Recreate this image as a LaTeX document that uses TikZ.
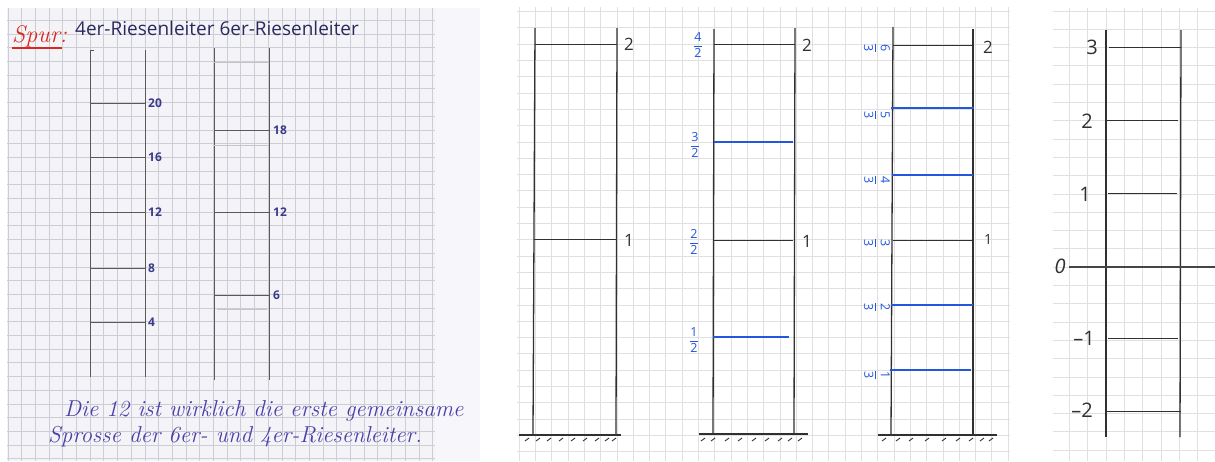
\documentclass[tikz,border=0pt]{standalone}
\usepackage{amsmath}
\usepackage{fontspec}
\newfontfamily\numf{Open Sans}
\definecolor{paperA}{HTML}{F4F4F8}
\definecolor{paperB}{HTML}{F7F6FB}
\definecolor{gridA}{HTML}{CDCDD6}
\definecolor{gridB}{HTML}{E0E0E0}
\definecolor{redink}{HTML}{D9281E}
\definecolor{navyink}{HTML}{2B2A5E}
\definecolor{violetink}{HTML}{4B3FA8}
\definecolor{labink}{HTML}{3B3A8A}
\definecolor{pencil}{HTML}{5A5A5A}
\definecolor{ink}{HTML}{303030}
\definecolor{blueink}{HTML}{2457E0}
\newcommand\hfr[2]{$\genfrac{}{}{0.7pt}{0}{\text{#1}}{\text{#2}}$}
\tikzset{
  gridlineA/.style={draw=gridA, line width=0.6},
  gridlineB/.style={draw=gridB, line width=0.6},
  oldrail/.style={draw=pencil, line width=0.9},
  oldrung/.style={draw=pencil, line width=0.9},
  erased/.style={draw=pencil!35, line width=0.8},
  oldlab/.style={text=labink, font=\numf\bfseries\fontsize{12}{12}\selectfont, anchor=west, inner sep=1pt},
  rail/.style={draw=ink, line width=1.3},
  rung/.style={draw=ink, line width=1.0},
  bluerung/.style={draw=blueink, line width=1.1},
  ground/.style={draw=ink, line width=1.5},
  hatch/.style={draw=ink, line width=0.9},
  biglab/.style={text=ink, font=\numf\fontsize{17}{17}\selectfont, inner sep=1pt},
  numlab/.style={text=ink, font=\numf\fontsize{20}{20}\selectfont, inner sep=1pt},
  fraclab/.style={text=blueink, font=\numf\fontsize{12.5}{12.5}\selectfont, inner sep=0pt},
  cursive/.style={text=violetink, font=\itshape\fontsize{23}{23}\selectfont, anchor=base west, inner sep=0pt},
}
\begin{document}
\begin{tikzpicture}[x=1pt,y=-1pt]
\useasboundingbox (0,0) rectangle (1215,461);
\fill[white] (0,0) rectangle (1215,461);
% ---------------- panel 1 ----------------
\fill[paperA] (7,8) rectangle (435,461);
\fill[paperB] (435,8) rectangle (480,461);
\begin{scope}
\clip (7,8) rectangle (435,461);
\foreach \i in {0,...,31} \draw[gridlineA] ({7.8+13.7*\i},8) -- ++(0,453);
\foreach \j in {0,...,33} \draw[gridlineA] (7,{6.5+13.7*\j}) -- ++(428,0);
\end{scope}
\node[text=redink, font=\itshape\fontsize{24}{24}\selectfont, anchor=base west, inner sep=0pt] (spur) at (12,42) {Spur:};
\draw[redink, line width=1.3] (12,48) -- (62,48);
\node[text=navyink, font=\numf\fontsize{19}{19}\selectfont, anchor=base west, inner sep=0pt] (title) at (75,35) {4er-Riesenleiter 6er-Riesenleiter};
% 4er ladder
\draw[oldrail] (90,50) -- (90,377);
\draw[oldrail] (145,50) -- (145,377);
\draw[oldrail] (90,50) -- (94,50);
\foreach \y/\t in {103/20,157/16,212/12,268/8,322/4}{
  \draw[oldrung] (90,\y) -- (145,\y);
  \node[oldlab] (f\t) at (147,\y) {\t};
}
% 6er ladder
\draw[oldrail] (214,48) -- (214,380);
\draw[oldrail] (269,48) -- (269,380);
\draw[erased] (214,62) -- (269,62);
\draw[erased] (214,145) -- (269,145);
\draw[erased] (217,309) -- (267,309);
\foreach \y/\t in {130/18,212/12,295/6}{
  \draw[oldrung] (214,\y) -- (269,\y);
  \node[oldlab] (s\t) at (272,\y) {\t};
}
\node[cursive] (line1) at (64,416) {Die 12 ist wirklich die erste gemeinsame};
\node[cursive] (line2) at (48,442) {Sprosse der 6er- und 4er-Riesenleiter.};
% ---------------- sheet A (panels 2 and 3) ----------------
\begin{scope}
\clip (517,7) rectangle (1010,461);
\foreach \i in {0,...,30} \draw[gridlineB] ({519+16.3*\i},7) -- ++(0,454);
\foreach \j in {0,...,28} \draw[gridlineB] (517,{11.4+16.3*\j}) -- ++(493,0);
\end{scope}
% ladder A
\draw[rail] (535,28) -- (533,434);
\draw[rail] (617,28) -- (616,434);
\draw[rung] (535,44) -- (617,44);
\draw[rung] (534,239) -- (616,239);
\draw[ground] (519,435) -- (621,435);
\foreach \x in {527,538,549,561,573,585,597,607,614} \draw[hatch] (\x-2,441) -- (\x+2,438);
\node[biglab, anchor=west] (a2) at (623,44) {2};
\node[biglab, anchor=west] (a1) at (623,240) {1};
% ladder B
\draw[rail] (714,29) -- (713,434);
\draw[rail] (795,28) -- (794,434);
\draw[rung] (714,44) -- (795,44);
\draw[bluerung] (714,142) -- (793,142);
\draw[rung] (714,240) -- (793,240);
\draw[bluerung] (713,337) -- (789,337);
\draw[ground] (699,434) -- (808,434);
\foreach \x in {703,713,727,740,754,767,780,790,800} \draw[hatch] (\x-2,441) -- (\x+2,438);
\node[biglab, anchor=west] (b2) at (801,45) {2};
\node[biglab, anchor=west] (b1) at (801,241) {1};
\node[fraclab] (b42) at (698,45) {\hfr{4}{2}};
\node[fraclab] (b32) at (695,145) {\hfr{3}{2}};
\node[fraclab] (b22) at (694,242) {\hfr{2}{2}};
\node[fraclab] (b12) at (694,340) {\hfr{1}{2}};
% ladder C
\draw[rail] (893,27) -- (891,435);
\draw[rail] (973,29) -- (973,435);
\draw[rung] (893,45) -- (972,45);
\draw[bluerung] (891,108) -- (974,108);
\draw[bluerung] (892,175) -- (973,175);
\draw[rung] (893,240) -- (973,240);
\draw[bluerung] (891,305) -- (973,305);
\draw[bluerung] (890,370) -- (971,370);
\draw[ground] (878,435) -- (997,435);
\foreach \x in {884,898,911,927,944,958,971,982,991} \draw[hatch] (\x-2,441) -- (\x+2,438);
\node[biglab, anchor=west] (c2) at (982,47) {2};
\node[biglab, anchor=west, font=\numf\fontsize{14}{14}\selectfont] (c1) at (983,239) {1};
\foreach \y/\n in {48/6,115/5,180/4,243/3,307/2,375/1}
  \node[fraclab, rotate=-90] (c\n) at (877,\y) {\hfr{\n}{3}};
% ---------------- sheet B (panel 4) ----------------
\begin{scope}
\clip (1053,8) rectangle (1215,461);
\foreach \i in {0,...,9} \draw[gridlineB] ({1051.1+18.3*\i},8) -- ++(0,453);
\foreach \j in {0,...,25} \draw[gridlineB] (1053,{10.8+18.3*\j}) -- ++(162,0);
\end{scope}
\draw[rail] (1106,30) -- (1106,437);
\draw[rail] (1181,30) -- (1180,437);
\draw[rung] (1109,47) -- (1181,47);
\draw[rung] (1106,120) -- (1178,120);
\draw[rung] (1108,193) -- (1177,193);
\draw[draw=ink!90, line width=2.8] (1069,267) -- (1215,267);
\draw[rung] (1108,338) -- (1178,338);
\draw[rung] (1106,411) -- (1181,411);
\node[numlab] (d3) at (1092,47) {3};
\node[numlab] (d2) at (1087,121) {2};
\node[numlab] (d1) at (1085,194) {1};
\node[numlab, font=\numf\itshape\fontsize{20}{20}\selectfont] (d0) at (1060,266) {0};
\node[numlab] (dm1) at (1084,338) {\textendash1};
\node[numlab] (dm2) at (1082,410) {\textendash2};
\end{tikzpicture}
\end{document}
